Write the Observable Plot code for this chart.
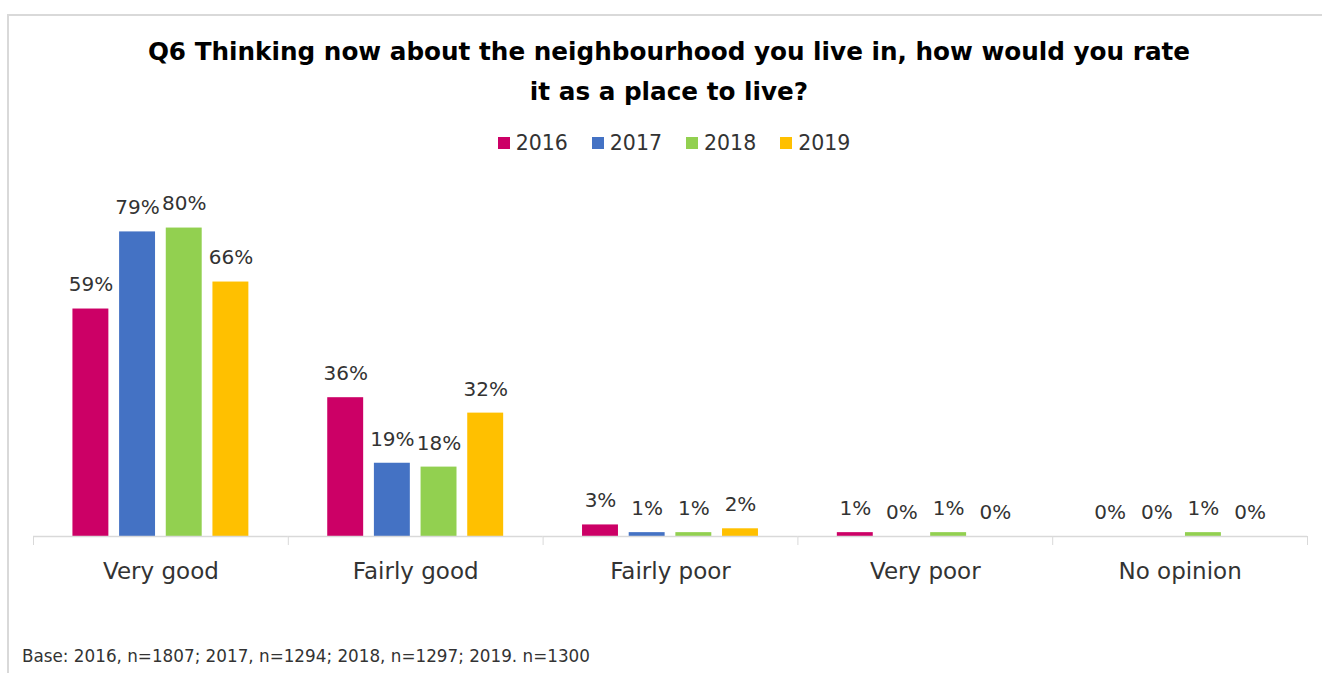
<!DOCTYPE html>
<html>
<head>
<meta charset="utf-8">
<script src="https://cdn.jsdelivr.net/npm/d3@7"></script>
<script src="https://cdn.jsdelivr.net/npm/@observablehq/plot@0.6"></script>
<style>
  html, body { margin: 0; padding: 0; background: #fff; }
  body { width: 1322px; height: 673px; position: relative; overflow: hidden; font-family: "DejaVu Sans", sans-serif; }
  #frame { position: absolute; left: 7px; top: 14px; width: 1330px; height: 680px; border-left: 2px solid #d9d9d9; border-top: 2px solid #d9d9d9; }
  #title { position: absolute; left: 0; width: 1338px; top: 32px; text-align: center; font-weight: 700; font-size: 24.7px; line-height: 40px; color: #000; }
  #legend { position: absolute; left: 0; width: 1348px; top: 131px; display: flex; justify-content: center; gap: 24px; font-size: 20.5px; color: #333; }
  #legend .item { display: flex; align-items: center; gap: 6px; }
  #legend .sw { width: 12px; height: 12px; display: inline-block; }
  #chart { position: absolute; left: 0; top: 160px; }
  #caption { position: absolute; left: 22px; top: 646px; font-size: 16.8px; color: #333; }
</style>
</head>
<body>
<div id="frame"></div>
<div id="title">Q6 Thinking now about the neighbourhood you live in, how would you rate<br>it as a place to live?</div>
<div id="legend"></div>
<div id="chart"></div>
<div id="caption">Base: 2016, n=1807; 2017, n=1294; 2018, n=1297; 2019. n=1300</div>
<script>
const categories = ["Very good", "Fairly good", "Fairly poor", "Very poor", "No opinion"];
const years = ["2016", "2017", "2018", "2019"];
const colors = ["#CC0066", "#4472C4", "#92D050", "#FFC000"];
const values2016 = [59, 36, 3, 1, 0];
const values2017 = [79, 19, 1, 0, 0];
const values2018 = [80, 18, 1, 1, 1];
const values2019 = [66, 32, 2, 0, 0];

const series = [values2016, values2017, values2018, values2019];
const data = [];
categories.forEach((c, i) => {
  years.forEach((y, j) => data.push({category: c, year: y, value: series[j][i]}));
});

// legend
const legend = document.getElementById("legend");
years.forEach((y, j) => {
  const it = document.createElement("span");
  it.className = "item";
  it.innerHTML = `<span class="sw" style="background:${colors[j]}"></span><span>${y}</span>`;
  legend.appendChild(it);
});

const W = 1322, H = 440, ML = 33, MR = 15;
const half = (W - ML - MR) / categories.length / 2;

const chart = Plot.plot({
  width: W,
  height: H,
  marginLeft: ML,
  marginRight: MR,
  marginTop: 29,
  marginBottom: 64,
  fx: {domain: categories, padding: 0, round: false, label: null},
  x: {domain: years, paddingInner: 0.23, paddingOuter: 0.845, round: false, axis: null},
  y: {domain: [0, 90], axis: null},
  color: {domain: years, range: colors},
  style: {fontFamily: "'DejaVu Sans', sans-serif", color: "#333", background: "transparent", overflow: "visible"},
  marks: [
    Plot.barY(data, {fx: "category", x: "year", y: "value", fill: "year"}),
    Plot.ruleY([0], {stroke: "#d9d9d9", strokeWidth: 1.5}),
    Plot.text(data, {fx: "category", x: "year", y: "value", text: d => d.value + "%", dy: -24, fontSize: 20, fill: "#333"}),
    Plot.axisFx({anchor: "bottom", tickSize: 0, tickPadding: 26, fontSize: 23, letterSpacing: 1.3, label: null}),
    Plot.axisFx({anchor: "bottom", tickSize: 9, tickFormat: () => "", dx: -half, stroke: "#d9d9d9", label: null}),
    Plot.axisFx({anchor: "bottom", ticks: [categories[categories.length - 1]], tickSize: 9, tickFormat: () => "", dx: half, stroke: "#d9d9d9", label: null})
  ]
});
document.getElementById("chart").appendChild(chart);
</script>
</body>
</html>
